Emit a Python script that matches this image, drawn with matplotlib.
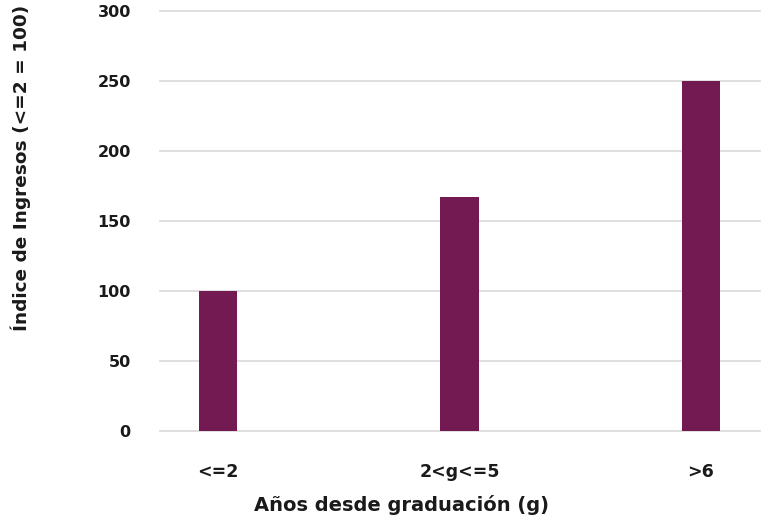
import matplotlib
matplotlib.use("Agg")
import matplotlib.pyplot as plt

categories = ["<=2", "2<g<=5", ">6"]
values = [100, 167, 250]
yticks = [0, 50, 100, 150, 200, 250, 300]

plt.rcParams['font.family'] = ['DejaVu Sans']
W, H = 764, 519
fig = plt.figure(figsize=(W/100, H/100), dpi=100)
ax = fig.add_axes([160/W, (H-430.7)/H, 600/W, 420/H])

x = list(range(len(categories)))
ax.bar(x, values, width=0.16, color="#731a53", zorder=3)
ax.set_xlim(-0.24, 2.245)
ax.set_ylim(0, 300)
ax.set_yticks(yticks)
ax.set_xticks(x)
ax.set_xticklabels(categories, fontsize=12.5, fontweight="bold", color="#1a1a1a")
ax.set_yticklabels([str(v) for v in yticks], fontsize=11.5, fontweight="bold", color="#1a1a1a")
ax.tick_params(axis="x", length=0, pad=23)
ax.tick_params(axis="y", length=0, pad=21)
ax.grid(axis="y", color="#d9d9d9", linewidth=1.2, zorder=0)
for gl in ax.yaxis.get_gridlines():
    gl.set_clip_on(False)
for s in ax.spines.values():
    s.set_visible(False)

fig.text(401/W, 1 - 505/H, "Años desde graduación (g)", ha="center", va="center",
         fontsize=14, fontweight="bold", color="#1a1a1a")
fig.text(21/W, 1 - 168/H, "Índice de Ingresos (<=2 = 100)", ha="center", va="center",
         rotation=90, fontsize=13.3, fontweight="bold", color="#1a1a1a")

fig.savefig("out.png", dpi=100)
